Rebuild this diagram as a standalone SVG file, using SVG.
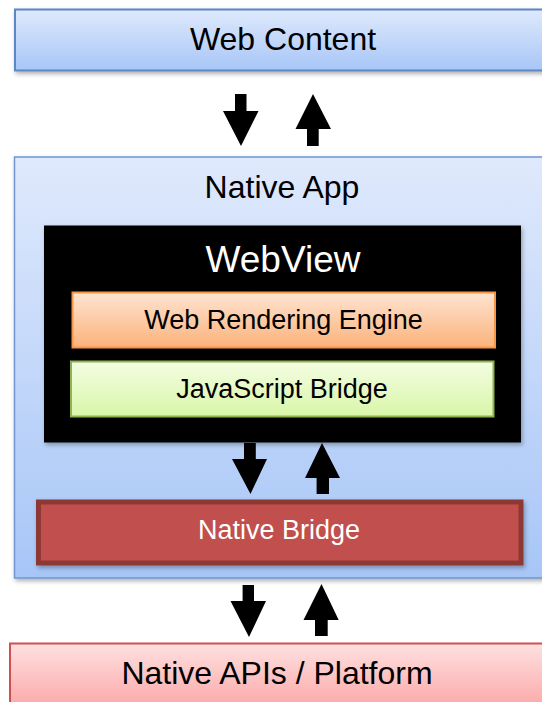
<svg xmlns="http://www.w3.org/2000/svg" width="542" height="702" viewBox="0 0 542 702">
  <defs>
    <linearGradient id="gBlue" x1="0" y1="0" x2="0" y2="1">
      <stop offset="0" stop-color="#dfe9fc"/>
      <stop offset="1" stop-color="#a7c6f7"/>
    </linearGradient>
    <linearGradient id="gOrange" x1="0" y1="0" x2="0" y2="1">
      <stop offset="0" stop-color="#fee4d1"/>
      <stop offset="1" stop-color="#fbb27b"/>
    </linearGradient>
    <linearGradient id="gGreen" x1="0" y1="0" x2="0" y2="1">
      <stop offset="0" stop-color="#f4fde2"/>
      <stop offset="1" stop-color="#d8f6a8"/>
    </linearGradient>
    <linearGradient id="gPink" x1="0" y1="0" x2="0" y2="1">
      <stop offset="0" stop-color="#ffe0e0"/>
      <stop offset="1" stop-color="#fba3a3"/>
    </linearGradient>
    <filter id="shadow" x="-5%" y="-10%" width="112%" height="130%">
      <feDropShadow dx="1.5" dy="2.5" stdDeviation="2" flood-color="#000" flood-opacity="0.3"/>
    </filter>
  </defs>
  <style>
    .big { font-family: "Liberation Sans", Arial, sans-serif; font-size: 32px; fill: #000; text-anchor: middle; }
    .small { font-family: "Liberation Sans", Arial, sans-serif; font-size: 27px; fill: #000; text-anchor: middle; }
    .arrow { fill: #000; }
  </style>

  <rect width="542" height="702" fill="#fff"/>

  <g id="web-content">
    <rect x="15" y="9.5" width="540" height="61" fill="url(#gBlue)" stroke="#5b86c6" stroke-width="2" filter="url(#shadow)"/>
    <text class="big" x="283" y="50">Web Content</text>
  </g>

  <g id="native-app">
    <rect x="14.5" y="157" width="540" height="421" fill="url(#gBlue)" stroke="#6f96d2" stroke-width="1.5" filter="url(#shadow)"/>
    <text class="big" x="282" y="198">Native App</text>
  </g>

  <g id="webview">
    <rect x="44" y="225.5" width="477" height="217" fill="#000" filter="url(#shadow)"/>
    <text class="big" x="283" y="272" style="font-size:37px;fill:#fff">WebView</text>
  </g>

  <g id="web-rendering-engine">
    <rect x="72.5" y="292.5" width="422.5" height="55" fill="url(#gOrange)" stroke="#f79646" stroke-width="2"/>
    <text class="small" x="283.5" y="328.5">Web Rendering Engine</text>
  </g>

  <g id="javascript-bridge">
    <rect x="71" y="361.5" width="422.5" height="55" fill="url(#gGreen)" stroke="#8fb350" stroke-width="2"/>
    <text class="small" x="282" y="397.5">JavaScript Bridge</text>
  </g>

  <g id="native-bridge">
    <rect x="38.5" y="502" width="482.5" height="61" fill="#c0504d" stroke="#8e3836" stroke-width="5" filter="url(#shadow)"/>
    <text class="small" x="279" y="538.5" style="fill:#fff">Native Bridge</text>
  </g>

  <g id="native-apis">
    <rect x="10" y="643.5" width="540" height="70" fill="url(#gPink)" stroke="#cf5050" stroke-width="2"/>
    <text class="big" x="277" y="684">Native APIs / Platform</text>
  </g>

  <g id="connectors">
    <!-- Web Content <-> Native App -->
    <polygon class="arrow" points="235,94 246.5,94 246.5,111 258.5,111 241,146 223,111 235,111"/>
    <polygon class="arrow" points="313,94 331,129 318.7,129 318.7,146 307,146 307,129 295.5,129"/>
    <!-- WebView <-> Native Bridge -->
    <polygon class="arrow" points="244,443 255.8,443 255.8,459 267,459 250.5,494 232,459 244,459"/>
    <polygon class="arrow" points="322,443 340,478 329,478 329,494 316.6,494 316.6,478 305,478"/>
    <!-- Native App <-> Native APIs -->
    <polygon class="arrow" points="242.6,585 254,585 254,601 266,601 249,637 230.5,601 242.6,601"/>
    <polygon class="arrow" points="321.5,584 338.7,620 327.7,620 327.7,636 315,636 315,620 303.5,620"/>
  </g>
</svg>
